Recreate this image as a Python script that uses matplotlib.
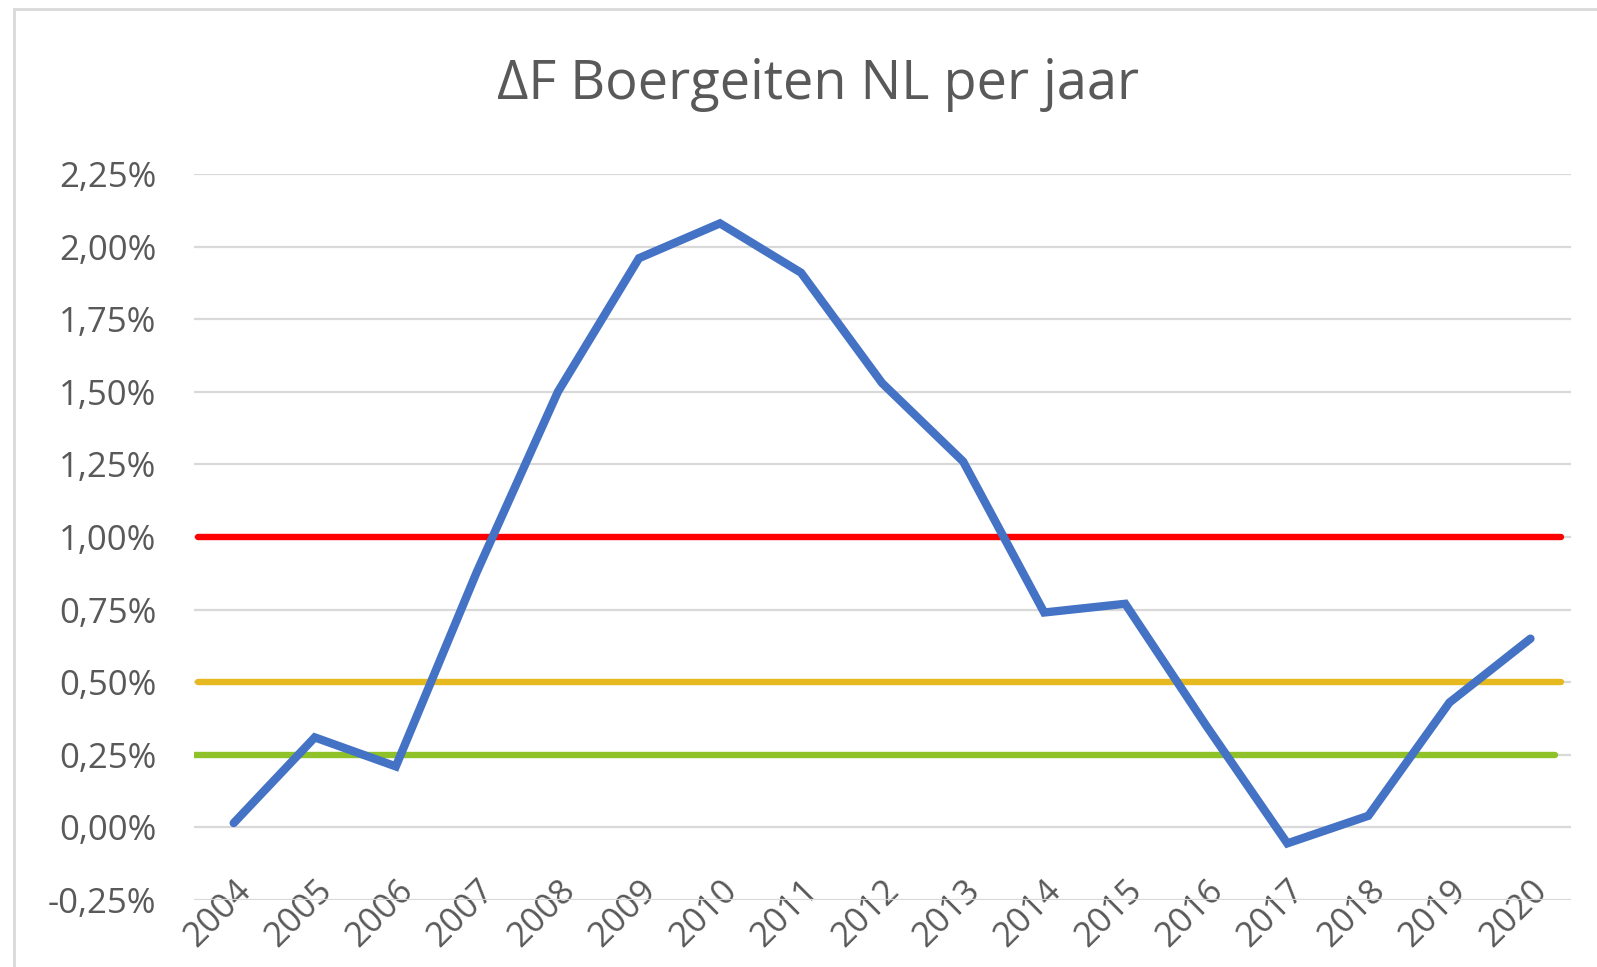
import matplotlib.pyplot as plt
from matplotlib.patches import Rectangle
from matplotlib.ticker import FuncFormatter, MultipleLocator

plt.rcParams['font.family'] = ['Open Sans', 'DejaVu Sans']

# jaartallen en inteeltstijging (in %)
jaren = ['2004', '2005', '2006', '2007', '2008', '2009', '2010', '2011', '2012',
         '2013', '2014', '2015', '2016', '2017', '2018', '2019', '2020']
delta_f = [0.015, 0.31, 0.21, 0.88, 1.50, 1.96, 2.08, 1.91, 1.53,
           1.26, 0.74, 0.77, 0.35, -0.055, 0.04, 0.43, 0.65]

# grenswaarden
grens_rood = 1.00
grens_oranje = 0.50
grens_groen = 0.25

grijs = '#595959'

fig = plt.figure(figsize=(15.97, 9.67), dpi=100)
ax = fig.add_axes([194 / 1597, 1 - 900 / 967, (1571 - 194) / 1597, (900 - 174) / 967])

x = list(range(len(jaren)))

ax.plot([-0.44, 16.38], [grens_rood] * 2, color='#FF0000', lw=4.6, solid_capstyle='round', zorder=3)
ax.plot([-0.44, 16.38], [grens_oranje] * 2, color='#E6B920', lw=4.6, solid_capstyle='round', zorder=3)
ax.plot([-0.51, 16.30], [grens_groen] * 2, color='#8FC229', lw=4.6, solid_capstyle='round', zorder=3)
ax.plot(x, delta_f, color='#4472C4', lw=6, solid_capstyle='round', solid_joinstyle='miter', zorder=4)

ax.set_xlim(-0.49, 16.5)
ax.set_ylim(-0.25, 2.25)
ax.yaxis.set_major_locator(MultipleLocator(0.25))
ax.yaxis.set_major_formatter(FuncFormatter(lambda v, p: f'{v:.2f}%'.replace('.', ',')))
ax.grid(axis='y', color='#D9D9D9', lw=1.6, zorder=0)

for s in ['top', 'right', 'left']:
    ax.spines[s].set_visible(False)
ax.spines['bottom'].set_position(('data', 0))
ax.spines['bottom'].set_visible(False)

ax.set_xticks(x)
ax.set_xticklabels(jaren, rotation=45, ha='right', va='top', rotation_mode='anchor')
ax.tick_params(axis='x', length=0, pad=33, labelsize=25, colors=grijs)
ax.tick_params(axis='y', length=0, pad=27, labelsize=25, colors=grijs)

fig.text(818 / 1597, 1 - 84 / 967, 'ΔF Boergeiten NL per jaar', ha='center', va='center',
         fontsize=39, color=grijs)

# kader om de grafiek
fig.patches.append(Rectangle((14 / 1597, -0.1), 1.2, 1 - 9 / 967 + 0.1, transform=fig.transFigure,
                             fill=False, edgecolor='#D9D9D9', lw=2))

fig.savefig('out.png', dpi=100)
